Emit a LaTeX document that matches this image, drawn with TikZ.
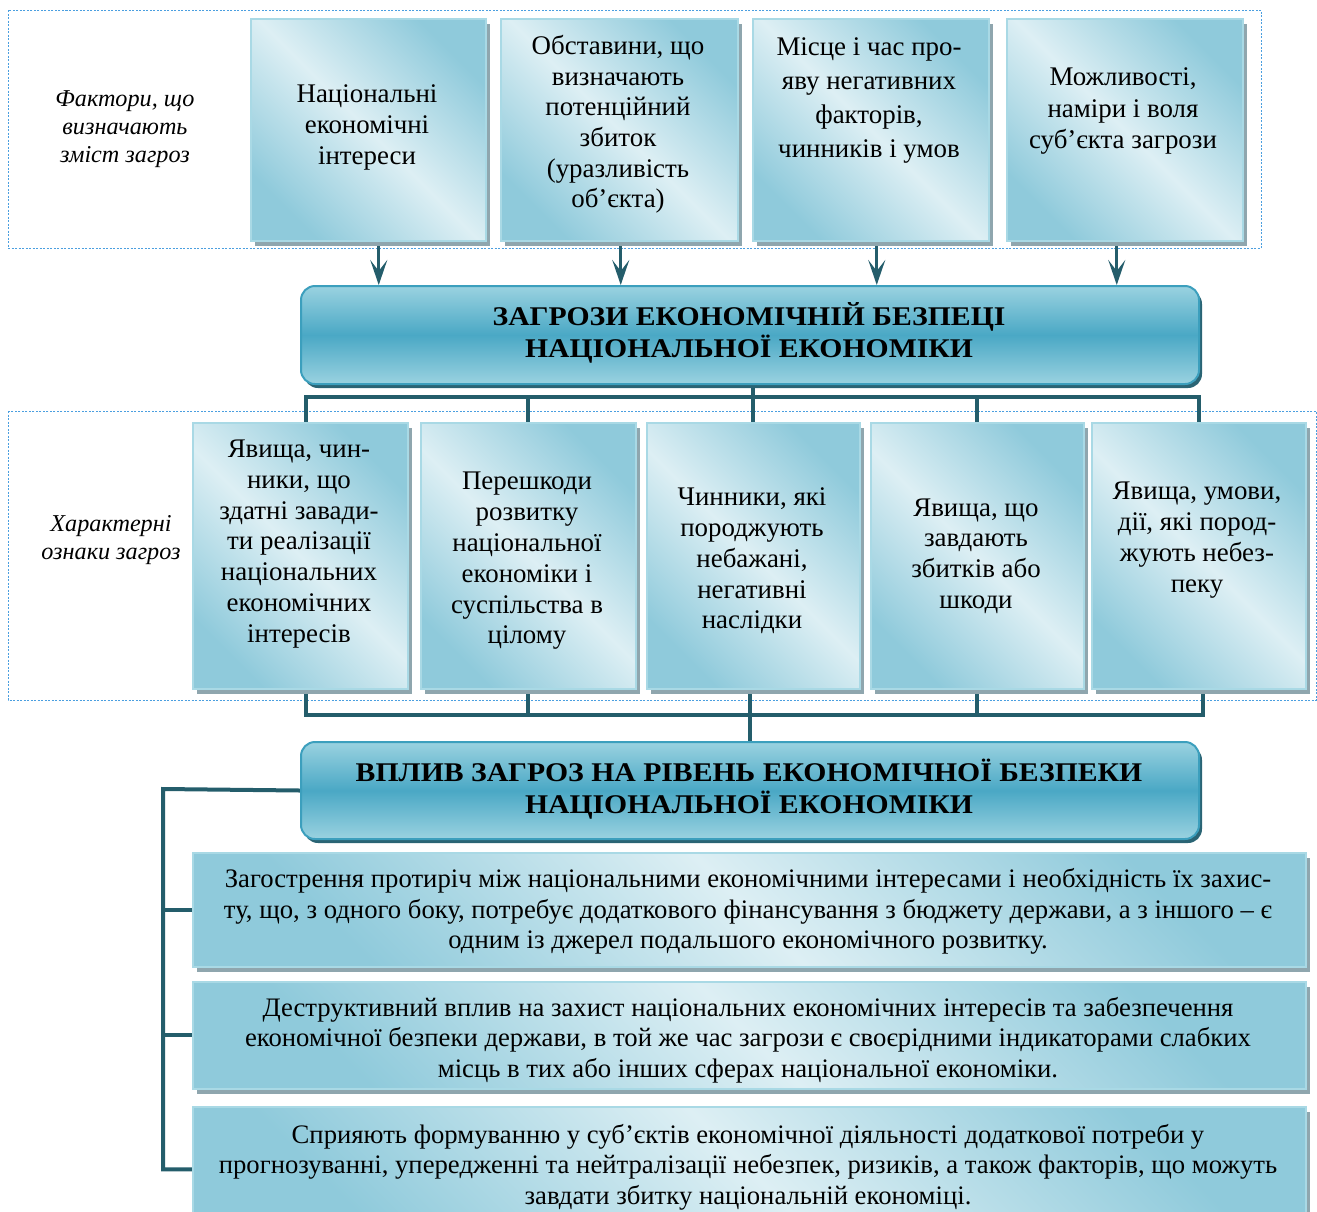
\documentclass[tikz,border=0pt]{standalone}
\usepackage{fontspec}
\setmainfont{Liberation Serif}
\newfontfamily\titlefont{Liberation Serif}[FakeStretch=1.1]
\usetikzlibrary{arrows.meta,shadows,backgrounds}
\definecolor{bdark}{HTML}{8FCADB}
\definecolor{blight}{HTML}{DDEFF4}
\definecolor{bedge}{HTML}{A9D9E5}
\definecolor{shgrey}{HTML}{8FA6AE}
\definecolor{tdark}{HTML}{4AA8C5}
\definecolor{tlight}{HTML}{9AD2E0}
\definecolor{tedge}{HTML}{3C9FBD}
\definecolor{tshadow}{HTML}{2A6474}
\definecolor{conn}{HTML}{245D6B}
\definecolor{dashc}{HTML}{4A9FE0}
\begin{document}
\begin{tikzpicture}[x=1pt,y=-1pt,
  gbox/.style={draw=bedge, line width=1.5pt, top color=bdark, bottom color=bdark,
    middle color=blight, shading angle=-45, inner sep=0pt, anchor=north west,
    drop shadow={shadow xshift=4pt, shadow yshift=-5pt, fill=shgrey, opacity=1}},
  tbox/.style={draw=tedge, line width=2pt, rounded corners=14pt, top color=tlight,
    bottom color=tlight, middle color=tdark, inner sep=0pt, anchor=north west,
    drop shadow={shadow xshift=3pt, shadow yshift=-4pt, fill=tshadow, opacity=1}},
  txt/.style={inner sep=0pt, align=center, font=\fontsize{26.9}{31}\selectfont},
  btxt/.style={inner sep=0pt, align=center, font=\fontsize{26.7}{30.5}\selectfont},
  ttxt/.style={inner sep=0pt, align=center, font=\titlefont\bfseries\fontsize{27}{32}\selectfont},
  ltxt/.style={inner sep=0pt, align=center, font=\itshape\fontsize{24.2}{28}\selectfont},
  conn/.style={draw=conn, line width=4pt},
  arr/.style={draw=conn, line width=3pt, -{Stealth[length=25pt,width=17pt,inset=11pt]}},
  frame/.style={draw=dashc, line width=0.8pt, dash pattern=on 2pt off 1.5pt}]
\useasboundingbox (0,0) rectangle (1317,1211);
\clip (0,0) rectangle (1317,1211);

% top row
\node[gbox, minimum width=235pt, minimum height=222pt] (t1) at (250,18) {};
\node[gbox, minimum width=237pt, minimum height=222pt] (t2) at (500,18) {};
\node[gbox, minimum width=236pt, minimum height=222pt] (t3) at (752,18) {};
\node[gbox, minimum width=236pt, minimum height=222pt] (t4) at (1006,18) {};
\node[txt] (t1x) at (367,127.5) {Національні\\економічні\\інтереси};
\node[txt, font=\fontsize{26.9}{30.6}\selectfont] (t2x) at (618,124.5) {Обставини, що\\визначають\\потенційний\\збиток\\(уразливість\\об’єкта)};
\node[txt, font=\fontsize{26.9}{34}\selectfont] (t3x) at (869,100) {Місце і час про-\\яву негативних\\факторів,\\чинників і умов};
\node[txt, font=\fontsize{26.9}{31.5}\selectfont] (t4x) at (1123,111) {Можливості,\\наміри і воля\\суб’єкта загрози};
\node[ltxt] (l1) at (125,129) {Фактори, що\\визначають\\зміст загроз};

% main title 1
\node[tbox, minimum width=898pt, minimum height=98pt] (m1) at (300,285) {};
\node[ttxt] (m1x) at (749,333) {ЗАГРОЗИ ЕКОНОМІЧНІЙ БЕЗПЕЦІ\\НАЦІОНАЛЬНОЇ ЕКОНОМІКИ};

% second row
\node[gbox, minimum width=215pt, minimum height=266pt] (r1) at (192,422) {};
\node[gbox, minimum width=215pt, minimum height=266pt] (r2) at (420,422) {};
\node[gbox, minimum width=213pt, minimum height=266pt] (r3) at (646,422) {};
\node[gbox, minimum width=213pt, minimum height=266pt] (r4) at (870,422) {};
\node[gbox, minimum width=214pt, minimum height=266pt] (r5) at (1091,422) {};
\node[txt, font=\fontsize{26.9}{30.8}\selectfont] (r1x) at (299,544) {Явища, чин-\\ники, що\\здатні завади-\\ти реалізації\\національних\\економічних\\інтересів};
\node[txt, font=\fontsize{26.9}{30.8}\selectfont] (r2x) at (527,561) {Перешкоди\\розвитку\\національної\\економіки і\\суспільства в\\цілому};
\node[txt, font=\fontsize{26.9}{30.8}\selectfont] (r3x) at (752,561) {Чинники, які\\породжують\\небажані,\\негативні\\наслідки};
\node[txt, font=\fontsize{26.9}{30.8}\selectfont] (r4x) at (976,556) {Явища, що\\завдають\\збитків або\\шкоди};
\node[txt, font=\fontsize{26.9}{30.8}\selectfont] (r5x) at (1197,540) {Явища, умови,\\дії, які пород-\\жують небез-\\пеку};
\node[ltxt] (l2) at (111,540) {Характерні\\ознаки загроз};

% main title 2
\node[tbox, minimum width=898pt, minimum height=97pt] (m2) at (300,741) {};
\node[ttxt] (m2x) at (749,789) {ВПЛИВ ЗАГРОЗ НА РІВЕНЬ ЕКОНОМІЧНОЇ БЕЗПЕКИ\\НАЦІОНАЛЬНОЇ ЕКОНОМІКИ};

% bottom boxes
\node[gbox, minimum width=1113pt, minimum height=114pt] (c1) at (192,852) {};
\node[gbox, minimum width=1113pt, minimum height=107pt] (c2) at (192,981) {};
\node[gbox, minimum width=1113pt, minimum height=125pt] (c3) at (192,1106) {};
\node[btxt] (c1x) at (748,911.5) {Загострення протиріч між національними економічними інтересами і необхідність їх захис-\\ту, що, з одного боку, потребує додаткового фінансування з бюджету держави, а з іншого – є\\одним із джерел подальшого економічного розвитку.};
\node[btxt] (c2x) at (748,1040) {Деструктивний вплив на захист національних економічних інтересів та забезпечення\\економічної безпеки держави, в той же час загрози є своєрідними індикаторами слабких\\місць в тих або інших сферах національної економіки.};
\node[btxt] (c3x) at (748,1167) {Сприяють формуванню у суб’єктів економічної діяльності додаткової потреби у\\прогнозуванні, упередженні та нейтралізації небезпек, ризиків, а також факторів, що можуть\\завдати збитку національній економіці.};

\begin{scope}[on background layer]
  \draw[frame] (8,10) rectangle (1261,248);
  \draw[frame] (8,411) rectangle (1316,700);
  % arrows top
  \draw[arr] ([xshift=10.5pt]t1.south) -- ([xshift=10.5pt]t1.south |- m1.north);
  \draw[arr] ([xshift=1.5pt]t2.south) -- ([xshift=1.5pt]t2.south |- m1.north);
  \draw[arr] ([xshift=6pt]t3.south) -- ([xshift=6pt]t3.south |- m1.north);
  \draw[arr] ([xshift=-8pt]t4.south) -- ([xshift=-8pt]t4.south |- m1.north);
  % bar under title 1
  \draw[conn] (m1.south -| r3.north) -- (r3.north);
  \draw[conn] ([xshift=6pt]r1.north) -- ++(0,-25) -| (r5.north);
  \draw[conn] (r2.north) -- ++(0,-25);
  \draw[conn] (r4.north) -- ++(0,-25);
  % bar above title 2
  \draw[conn] ([xshift=6pt]r1.south) -- ++(0,25) -| ([xshift=4pt]r5.south);
  \draw[conn] (r2.south) -- ++(0,25);
  \draw[conn] (r4.south) -- ++(0,25);
  \draw[conn] (r3.south -| m2.north) -- (m2.north);
  % left bracket
  \coordinate (bk) at (163,789);
  \draw[conn] (m2.west) -- (bk) |- (c3.west);
  \draw[conn] (bk |- c1.west) -- (c1.west);
  \draw[conn] (bk |- c2.west) -- (c2.west);
\end{scope}
\end{tikzpicture}
\end{document}
